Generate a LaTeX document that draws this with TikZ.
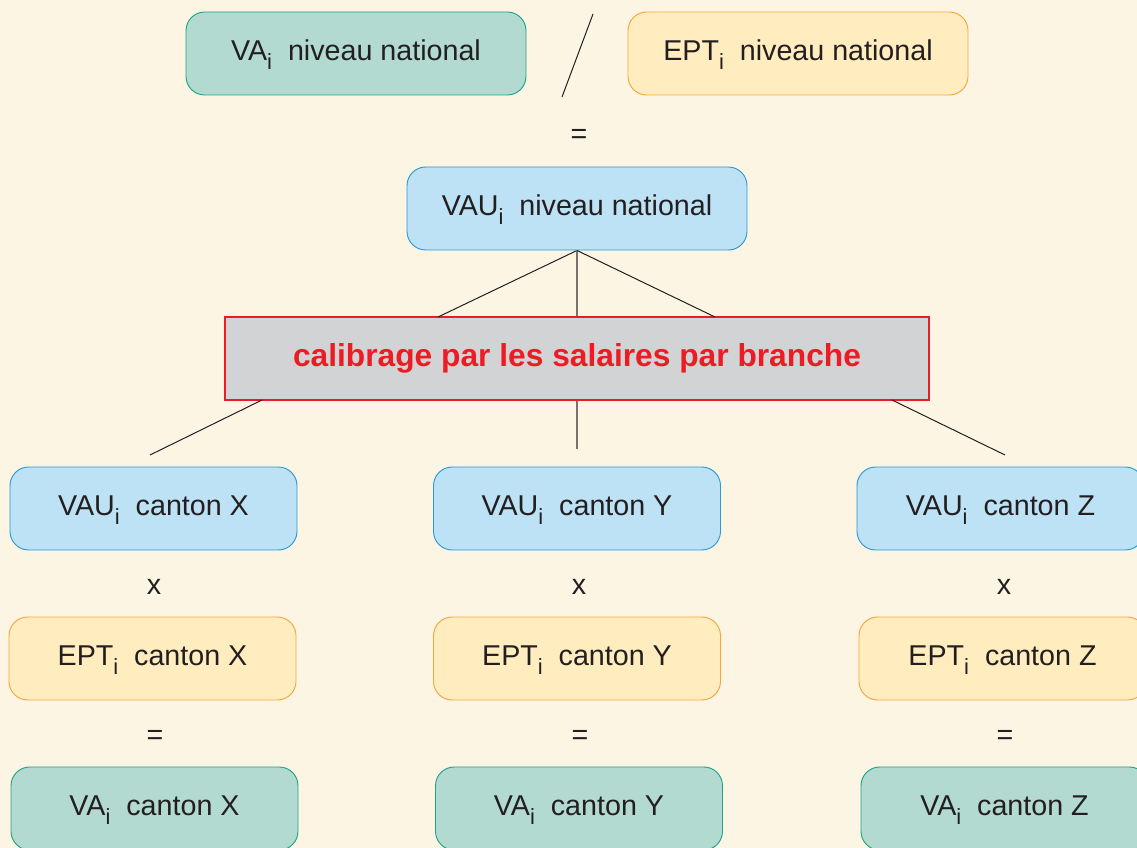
\documentclass[tikz,border=0pt]{standalone}
\usepackage{fontspec}
\setmainfont{Liberation Sans}
\usetikzlibrary{calc}
\definecolor{bg}{HTML}{FDF5E4}
\definecolor{txt}{HTML}{231F20}
\definecolor{grnfill}{HTML}{B2DAD1}
\definecolor{grnline}{HTML}{1FA488}
\definecolor{orfill}{HTML}{FFEDC0}
\definecolor{orline}{HTML}{F7A43A}
\definecolor{blfill}{HTML}{BDE1F5}
\definecolor{blline}{HTML}{2B9AD6}
\definecolor{calfill}{HTML}{D1D3D4}
\definecolor{calred}{HTML}{ED1C24}
\definecolor{vgray}{HTML}{7A706C}
\newcommand{\subidx}{\raisebox{-0.32em}{\fontsize{16.5}{18}\selectfont i}}
\tikzset{
  box/.style={rounded corners=14pt, line width=0.7pt, minimum height=62.25pt,
    inner sep=0pt, text=txt, font=\fontsize{21.5}{24}\selectfont,
    text height=16.8pt, text depth=6pt},
  wide/.style={minimum width=255pt},
  narrow/.style={minimum width=215.25pt},
  greenbox/.style={box, fill=grnfill, draw=grnline},
  orangebox/.style={box, fill=orfill, draw=orline},
  bluebox/.style={box, fill=blfill, draw=blline},
  calbox/.style={fill=calfill, draw=calred, line width=1.1pt, minimum width=528pt,
    minimum height=62.25pt, inner sep=0pt, text=calred,
    font=\fontsize{23.8}{26}\selectfont\bfseries},
  op/.style={text=txt, font=\fontsize{21.5}{24}\selectfont, inner sep=0pt},
  link/.style={draw=txt, line width=0.75pt},
  vlink/.style={draw=vgray, line width=1pt}
}
\begin{document}
\begin{tikzpicture}[x=0.75pt,y=-0.75pt]
\useasboundingbox (0,0) rectangle (1137,848);
\clip (0,0) rectangle (1137,848);
\fill[bg] (0,0) rectangle (1137,848);

% top row
\node[greenbox, wide] (vanat) at (356,53.5) {VA\subidx\ \ niveau national};
\node[orangebox, wide] (eptnat) at (798,53.5) {EPT\subidx\ \ niveau national};
\coordinate (slasht) at (593,14);
\coordinate (slashb) at (562,97);
\draw[link] (slasht) -- (slashb);
\node[op] (eqtop) at (579,136) {=};

\node[bluebox, wide] (vaunat) at (577,208.5) {VAU\subidx\ \ niveau national};

\node[calbox] (calib) at (577,358.5) {calibrage par les salaires par branche};

\coordinate (ct1) at (438,317);
\coordinate (ct3) at (715,317);
\draw[link] (vaunat.south) -- (ct1);
\draw[vlink] (vaunat.south) -- (calib.north);
\draw[link] (vaunat.south) -- (ct3);

\coordinate (cb1) at (262,400);
\coordinate (cb3) at (892,400);
\coordinate (e1) at (150,455);
\coordinate (e2) at (577,449);
\coordinate (e3) at (1005,455);
\draw[link] (cb1) -- (e1);
\draw[vlink] (calib.south) -- (e2);
\draw[link] (cb3) -- (e3);

% columns
\node[bluebox, narrow] (vaux) at (153.5,508.5) {VAU\subidx\ \ canton X};
\node[bluebox, narrow] (vauy) at (577,508.5) {VAU\subidx\ \ canton Y};
\node[bluebox, narrow] (vauz) at (1000.5,508.5) {VAU\subidx\ \ canton Z};

\node[op] (xx) at (154,587) {x};
\node[op] (xy) at (579,587) {x};
\node[op] (xz) at (1004,587) {x};

\node[orangebox, narrow] (eptx) at (152.5,658.5) {EPT\subidx\ \ canton X};
\node[orangebox, narrow] (epty) at (577,658.5) {EPT\subidx\ \ canton Y};
\node[orangebox, narrow] (eptz) at (1002.5,658.5) {EPT\subidx\ \ canton Z};

\node[op] (eqx) at (155,737) {=};
\node[op] (eqy) at (580,737) {=};
\node[op] (eqz) at (1005,737) {=};

\node[greenbox, narrow] (vax) at (154.5,808.5) {VA\subidx\ \ canton X};
\node[greenbox, narrow] (vay) at (579,808.5) {VA\subidx\ \ canton Y};
\node[greenbox, narrow] (vaz) at (1004.5,808.5) {VA\subidx\ \ canton Z};
\end{tikzpicture}
\end{document}
